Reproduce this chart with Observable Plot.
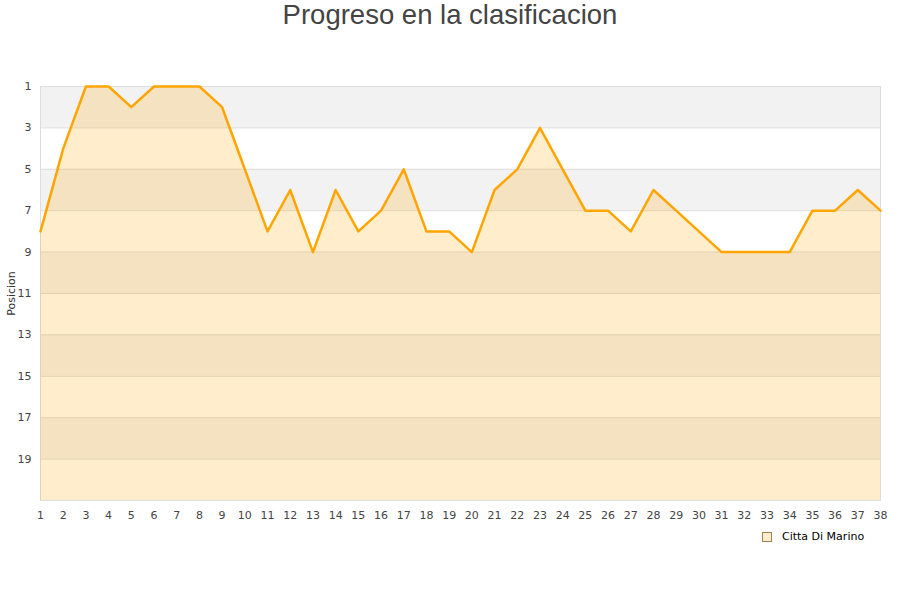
<!DOCTYPE html>
<html>
<head>
<meta charset="utf-8">
<script src="https://cdn.jsdelivr.net/npm/d3@7"></script>
<script src="https://cdn.jsdelivr.net/npm/@observablehq/plot@0.6"></script>
<style>
  body { margin: 0; background: #fff; }
  #wrap { position: relative; width: 900px; height: 600px; font-family: "DejaVu Sans", sans-serif; }
  #title { position: absolute; left: 0; width: 900px; top: -1px; text-align: center; font-family: "Liberation Sans", Arial, sans-serif; font-size: 27.5px; color: #444; line-height: 32px; }
  #legend { position: absolute; left: 762px; top: 530px; font-size: 11px; color: #000; display: flex; align-items: center; }
  #legend .sw { width: 8px; height: 8px; background: #ffedcc; border: 1px solid #a08050; margin-right: 10px; }
</style>
</head>
<body>
<div id="wrap">
  <div id="title">Progreso en la clasificacion</div>
  <div id="chart"></div>
  <div id="legend"><span class="sw"></span><span>Citta Di Marino</span></div>
</div>
<script>
const team = "Citta Di Marino";
const jornadas = d3.range(1, 39);
const posiciones = [8,4,1,1,2,1,1,1,2,5,8,6,9,6,8,7,5,8,8,9,6,5,3,5,7,7,8,6,7,8,9,9,9,9,7,7,6,7];
const yTicks = [1,3,5,7,9,11,13,15,17,19];
const bandStarts = [1,5,9,13,17];
const yDomain = [1, 21];

const data = jornadas.map((j, i) => ({jornada: j, pos: posiciones[i]}));
const xMin = jornadas[0], xMax = jornadas[jornadas.length - 1];

const chart = Plot.plot({
  width: 900,
  height: 600,
  marginLeft: 40,
  marginRight: 20,
  marginTop: 86,
  marginBottom: 100,
  style: {fontFamily: "DejaVu Sans, sans-serif", fontSize: "11px", color: "#444", background: "transparent"},
  x: {domain: [xMin, xMax], ticks: jornadas, tickSize: 0, tickPadding: 11, tickFormat: d3.format("d"), label: null},
  y: {domain: yDomain, reverse: true, ticks: yTicks, tickSize: 0, tickPadding: 9, label: null},
  marks: [
    Plot.rect(bandStarts, {x1: () => xMin, x2: () => xMax, y1: d => d, y2: d => d + 2, fill: "#f2f2f2"}),
    Plot.ruleY(yTicks, {stroke: "#dddddd"}),
    Plot.frame({stroke: "#dddddd"}),
    Plot.areaY(data, {x: "jornada", y1: yDomain[1], y2: "pos", fill: "#ffa500", fillOpacity: 0.2}),
    Plot.lineY(data, {x: "jornada", y: "pos", stroke: "#ffa500", strokeWidth: 2.5}),
    Plot.text(["Posicion"], {frameAnchor: "left", textAnchor: "middle", dx: -29, rotate: -90, text: d => d, fill: "#333", fontSize: 11})
  ]
});
document.getElementById("chart").appendChild(chart);
</script>
</body>
</html>
